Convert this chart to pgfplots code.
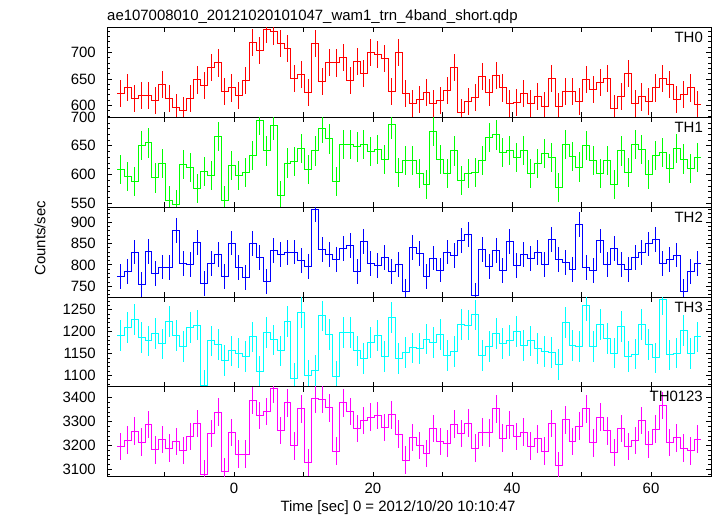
\documentclass[border=0pt]{standalone}
\usepackage{fontspec}
\setmainfont{Liberation Sans}
\usepackage{pgfplots}
\usepackage{pgfplotstable}
\pgfplotsset{compat=1.18}
\definecolor{qred}{RGB}{255,0,0}
\definecolor{qgreen}{RGB}{0,255,0}
\definecolor{qblue}{RGB}{0,0,255}
\definecolor{qcyan}{RGB}{0,255,255}
\definecolor{qmag}{RGB}{255,0,255}
\pgfplotstableread{
x th0 th1 th2 th3 th4
-16.8 623 609 772 1191 3196
-15.8 634 596 784 1209 3222
-14.8 613 588 830 1227 3260
-13.8 619 651 755 1187 3214
-12.8 619 655 832 1179 3288
-11.8 609 594 780 1196 3181
-10.8 640 619 795 1172 3225
-9.8 613 555 794 1223 3188
-8.8 597 547 880 1191 3217
-7.8 591 617 804 1166 3179
-6.8 613 612 801 1210 3238
-5.8 648 575 853 1215 3292
-4.8 638 605 757 1078 3079
-3.8 671 598 803 1179 3250
-2.8 680 666 824 1171 3339
-1.8 627 555 772 1134 3089
-0.8 633 615 851 1156 3254
0.2 619 598 793 1151 3164
1.2 647 604 770 1144 3164
2.2 719 633 850 1188 3389
3.2 704 695 818 1109 3326
4.2 743 641 761 1198 3343
5.2 739 685 833 1181 3438
6.2 717 563 825 1156 3263
7.2 707 620 829 1223 3379
8.2 651 623 830 1093 3199
9.2 658 645 810 1243 3354
10.2 625 608 796 1100 3129
11.2 717 641 929 1112 3396
12.2 645 680 835 1236 3394
13.2 681 662 825 1193 3358
14.2 680 588 812 1097 3176
15.2 691 653 838 1198 3379
16.2 647 653 845 1198 3343
17.2 683 648 784 1156 3271
18.2 660 652 854 1139 3304
19.2 700 640 804 1175 3318
20.2 696 643 798 1191 3326
21.2 689 626 817 1144 3275
22.2 627 687 785 1232 3329
23.2 700 604 801 1139 3247
24.2 623 624 737 1153 3138
25.2 604 624 840 1163 3233
26.2 611 602 827 1161 3200
27.2 624 583 773 1183 3167
28.2 604 675 816 1175 3271
29.2 610 626 788 1194 3217
30.2 629 602 830 1145 3208
31.2 672 641 821 1154 3289
32.2 586 590 857 1217 3250
33.2 607 602 871 1215 3293
34.2 615 604 729 1238 3188
35.2 654 624 836 1145 3256
36.2 625 665 796 1166 3253
37.2 657 669 833 1195 3354
38.2 633 638 787 1173 3231
39.2 604 642 855 1180 3285
40.2 606 630 798 1200 3238
41.2 623 642 824 1168 3256
42.2 604 601 815 1179 3197
43.2 617 619 829 1161 3228
44.2 599 637 801 1154 3176
45.2 650 629 860 1153 3292
46.2 598 577 813 1125 3114
47.2 627 653 805 1221 3307
48.2 627 632 789 1169 3217
49.2 608 613 894 1166 3281
50.2 649 651 794 1260 3354
51.2 630 624 787 1166 3211
52.2 644 601 856 1217 3318
53.2 650 624 801 1185 3261
54.2 594 582 839 1151 3170
55.2 617 641 801 1211 3271
56.2 660 604 789 1143 3196
57.2 604 653 817 1149 3221
58.2 616 644 829 1217 3304
59.2 607 600 849 1170 3204
60.2 633 633 860 1140 3268
61.2 650 639 803 1274 3367
62.2 640 611 813 1147 3213
63.2 611 645 823 1151 3232
64.2 621 627 738 1202 3188
65.2 633 610 784 1150 3178
66.2 602 630 804 1188 3226
67.2 602 630 804 1188 3226
}\data
\newcommand\fs{\fontsize{15}{18}\selectfont}
\pgfplotsset{
 panel/.style={
  scale only axis, width=604bp, height=89.9bp, anchor=north west,
  xmin=-18.27, xmax=68.63,
  xtick={-10,0,...,60}, xticklabels={},
  axis line style={line width=0.9bp, black},
  every tick/.style={black, line width=0.8bp},
  major tick length=5bp, minor tick length=3bp,
  tick align=inside, xtick pos=both, ytick pos=both,
  minor y tick num=4,
  /pgf/number format/assume math mode=true,
  /pgf/number format/1000 sep={},
  ticklabel style={font=\fs},
  yticklabel style={inner sep=0pt, xshift=-11bp},
  xticklabel style={inner sep=0pt, yshift=-6bp},
 },
 stepline/.style={const plot mark left, mark=none, line width=1bp, draw=#1},
 errs/.style n args={2}{draw=none, mark=none, skip coords between index={84}{85},
   error bars/.cd, y dir=both, y fixed=#2, error mark=none,
   error bar style={line width=1bp, draw=#1}},
}
\begin{document}
\begin{tikzpicture}
\useasboundingbox (0,0) rectangle (717bp,-516bp);
\node[anchor=base west, inner sep=0pt, font=\fs] at (107bp,-20.7bp) {ae107008010\_20121020101047\_wam1\_trn\_4band\_short.qdp};
\node[rotate=90, inner sep=0pt, font=\fs] at (40bp,-238.3bp) {Counts/sec};
\node[anchor=base, inner sep=0pt, font=\fs] at (398bp,-511bp) {Time [sec] 0 = 2012/10/20 10:10:47};

\begin{axis}[panel, at={(107bp,-27.3bp)}, ymin=578, ymax=747, ytick distance=50]
\addplot[stepline=qred] table[x=x, y=th0] {\data};
\addplot[errs={qred}{25.5}] table[x expr=\thisrow{x}+0.5, y=th0] {\data};
\node[anchor=north east, inner sep=0pt, font=\fs, xshift=-8bp, yshift=-4.5bp] at (rel axis cs:1,1) {TH0};
\end{axis}

\begin{axis}[panel, at={(107bp,-117.2bp)}, ymin=543, ymax=700, ytick distance=50]
\addplot[stepline=qgreen] table[x=x, y=th1] {\data};
\addplot[errs={qgreen}{25.5}] table[x expr=\thisrow{x}+0.5, y=th1] {\data};
\node[anchor=north east, inner sep=0pt, font=\fs, xshift=-8bp, yshift=-4.5bp] at (rel axis cs:1,1) {TH1};
\end{axis}

\begin{axis}[panel, at={(107bp,-207.1bp)}, ymin=725, ymax=935, ytick distance=50]
\addplot[stepline=qblue] table[x=x, y=th2] {\data};
\addplot[errs={qblue}{29}] table[x expr=\thisrow{x}+0.5, y=th2] {\data};
\node[anchor=north east, inner sep=0pt, font=\fs, xshift=-8bp, yshift=-4.5bp] at (rel axis cs:1,1) {TH2};
\end{axis}

\begin{axis}[panel, at={(107bp,-297bp)}, ymin=1074, ymax=1279, ytick distance=50]
\addplot[stepline=qcyan] table[x=x, y=th3] {\data};
\addplot[errs={qcyan}{35}] table[x expr=\thisrow{x}+0.5, y=th3] {\data};
\node[anchor=north east, inner sep=0pt, font=\fs, xshift=-8bp, yshift=-4.5bp] at (rel axis cs:1,1) {TH3};
\end{axis}

\begin{axis}[panel, at={(107bp,-386.8bp)}, ymin=3069, ymax=3446, ytick distance=100,
  xticklabels={,0,,20,,40,,60}]
\addplot[stepline=qmag] table[x=x, y=th4] {\data};
\addplot[errs={qmag}{58}] table[x expr=\thisrow{x}+0.5, y=th4] {\data};
\node[anchor=north east, inner sep=0pt, font=\fs, xshift=-8bp, yshift=-4.5bp] at (rel axis cs:1,1) {TH0123};
\end{axis}
\end{tikzpicture}
\end{document}
